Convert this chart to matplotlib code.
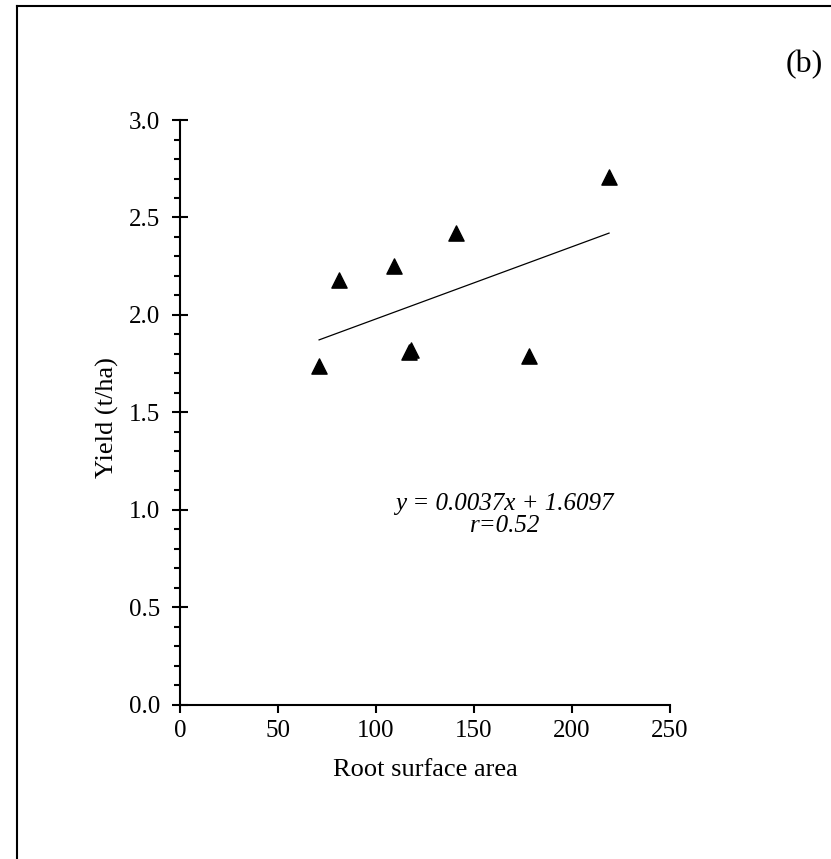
import matplotlib
matplotlib.use("Agg")
import matplotlib.pyplot as plt
import numpy as np
from matplotlib.lines import Line2D
from matplotlib.ticker import MultipleLocator

plt.rcParams['font.family'] = ['Liberation Serif', 'DejaVu Serif']

# Root surface area vs. yield
root_area = [71, 81, 109, 117, 118, 141, 178, 219]
yield_tha = [1.74, 2.18, 2.25, 1.81, 1.82, 2.42, 1.79, 2.71]

slope = 0.0037
intercept = 1.6097
r_value = 0.52

fig = plt.figure(figsize=(8.31, 8.59), dpi=100)
ax = fig.add_axes([0.2166, 0.1793, 0.806 - 0.2166, 0.8603 - 0.1793])

ax.scatter(root_area, yield_tha, marker='^', s=120, color='black', zorder=3)

fit_x = np.array([min(root_area), max(root_area)])
ax.plot(fit_x, slope * fit_x + intercept, color='black', lw=0.9)

ax.set_xlim(0, 250)
ax.set_ylim(0, 3.0)
ax.xaxis.set_major_locator(MultipleLocator(50))
ax.yaxis.set_major_locator(MultipleLocator(0.5))
ax.yaxis.set_minor_locator(MultipleLocator(0.1))
ax.yaxis.set_major_formatter(plt.FuncFormatter(lambda v, p: f"{v:.1f}"))

for s in ['top', 'right']:
    ax.spines[s].set_visible(False)
for s in ['left', 'bottom']:
    ax.spines[s].set_linewidth(1.5)

ax.tick_params(axis='x', direction='out', length=6, width=1.5, labelsize=18, pad=5)
ax.tick_params(axis='y', which='major', direction='inout', length=11, width=1.5, labelsize=18, pad=9)
ax.tick_params(axis='y', which='minor', direction='out', length=4, width=1.5)

ax.set_xlabel('Root surface area', fontsize=19, va='center')
ax.xaxis.set_label_coords(0.5, -0.111)
ax.set_ylabel('Yield (t/ha)', fontsize=19, va='center')
ax.yaxis.set_label_coords(-0.148, 0.492)

ax.text(165.8, 0.974, f"y = {slope:.4f}x + {intercept:.4f}\nr={r_value:.2f}",
        ha='center', va='center', fontsize=18, style='italic', linespacing=0.95)

fig.text(804 / 831, 1 - 65 / 859, '(b)', fontsize=23, ha='center', va='center')

# panel frame
fig.add_artist(Line2D([17 / 831, 17 / 831], [0, 1 - 6 / 859], color='black', lw=1.5))
fig.add_artist(Line2D([17 / 831, 830 / 831], [1 - 6 / 859, 1 - 6 / 859], color='black', lw=1.5))

fig.savefig('out.png', dpi=100)
